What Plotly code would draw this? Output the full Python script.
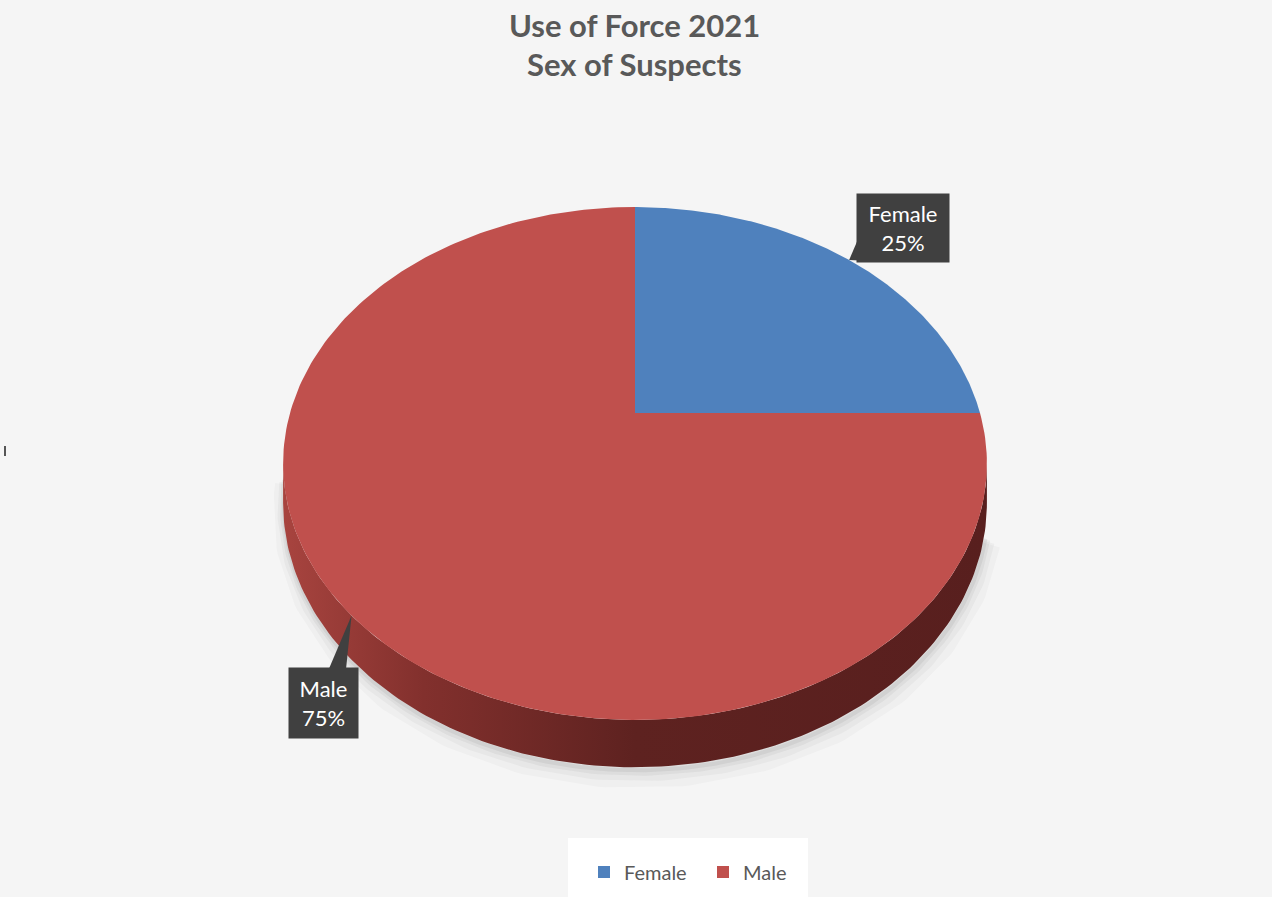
import numpy as np
import plotly.graph_objects as go

# ---- data -------------------------------------------------------------
categories = ["Female", "Male"]
shares = [25, 75]                      # percent of suspects
slice_colors = ["#4f81bd", "#c0504d"]
side_scales = [
    [[0, "#3a5f8c"], [0.5, "#2a4568"], [1, "#28405f"]],
    [[0, "#a8443f"], [0.2, "#82302d"], [0.5, "#5e2220"], [1, "#581f1e"]],
]
title_lines = ["Use of Force 2021", "Sex of Suspects"]

# ---- layout constants (pixels) -----------------------------------------
W, H = 1272, 897
CX, CY = 635, 413          # projected centre of the pie
A, B, P = 345, 246.5, 0.197  # perspective projection of the tilted disc
DEPTH = 38                 # thickness of the pie body
TEXT_GREY = "#595959"
BG = "#f5f5f5"


def project(phi, drop=0.0):
    """Clockwise angle from 12 o'clock on the disc -> screen coordinates."""
    u, v = np.sin(phi), np.cos(phi)
    d = 1 + P * v
    return CX + A * u / d, CY - B * v / d + drop / d


fig = go.Figure()

total = float(sum(shares))
bounds = np.concatenate([[0], np.cumsum(shares)]) / total * 2 * np.pi
front_lo = np.arccos(-P)
front_hi = 2 * np.pi - front_lo

# soft shadow under the body, strongest towards the lower right
phis = np.linspace(front_lo + 0.12, front_hi + 0.1, 200)
for w, op, off in [(26, 0.03, 8), (16, 0.045, 6), (9, 0.06, 4), (4, 0.07, 3)]:
    sx, sy = project(phis, DEPTH)
    fig.add_trace(go.Scatter(x=sx + off * 0.4, y=sy + off, mode="lines",
                             line=dict(color=f"rgba(60,60,60,{op})", width=w),
                             hoverinfo="skip", showlegend=False))

# visible side of each slice
for i, name in enumerate(categories):
    lo, hi = max(bounds[i], front_lo), min(bounds[i + 1], front_hi)
    if hi <= lo:
        continue
    ph = np.linspace(lo, hi, 160)
    tx, ty = project(ph)
    bx, by = project(ph[::-1], DEPTH)
    fig.add_trace(go.Scatter(
        x=np.concatenate([tx, bx, tx[:1]]), y=np.concatenate([ty, by, ty[:1]]),
        mode="lines", fill="toself", line=dict(width=0),
        fillgradient=dict(type="horizontal", colorscale=side_scales[i]),
        hoverinfo="skip", showlegend=False))

# top faces of the slices
for i, name in enumerate(categories):
    ph = np.linspace(bounds[i], bounds[i + 1], 240)
    ax, ay = project(ph)
    fig.add_trace(go.Scatter(
        x=np.concatenate([[CX], ax, [CX]]), y=np.concatenate([[CY], ay, [CY]]),
        mode="lines", fill="toself", fillcolor=slice_colors[i],
        line=dict(width=0), name=name, hoverinfo="name", showlegend=False))

# data-label callouts
label_specs = {
    "Female": dict(dx=54, dy=-32, w=90, h=66,
                   base=lambda l, t, r, b: [(l, b - 22), (l + 12, b)]),
    "Male": dict(dx=-28, dy=87, w=67, h=68,
                 base=lambda l, t, r, b: [(l + 39, t), (l + 56, t)]),
}
annotations = []
for i, name in enumerate(categories):
    mid = (bounds[i] + bounds[i + 1]) / 2
    tipx, tipy = project(mid)
    s = label_specs[name]
    bx_c, by_c = tipx + s["dx"], tipy + s["dy"]
    l, r = bx_c - s["w"] / 2, bx_c + s["w"] / 2
    t, b = by_c - s["h"] / 2, by_c + s["h"] / 2
    (p1x, p1y), (p2x, p2y) = s["base"](l, t, r, b)
    fig.add_trace(go.Scatter(x=[tipx, p1x, p2x, tipx], y=[tipy, p1y, p2y, tipy],
                             mode="lines", fill="toself", fillcolor="#404040",
                             line=dict(width=0), hoverinfo="skip", showlegend=False))
    annotations.append(dict(
        x=bx_c, y=by_c, xref="x", yref="y", showarrow=False,
        text=f"{name}<br>{shares[i]}%", width=s["w"], height=s["h"],
        bgcolor="#404040", font=dict(family="Lato", size=22, color="white"),
        align="center", valign="middle"))

# legend entries
for i, name in enumerate(categories):
    fig.add_trace(go.Scatter(x=[None], y=[None], mode="markers", name=name,
                             marker=dict(symbol="square", size=12, color=slice_colors[i])))

# title
for text, y in zip(title_lines, [25, 64]):
    annotations.append(dict(x=634, y=y, xref="x", yref="y", showarrow=False, text=text,
                            font=dict(family="Lato", size=31, color=TEXT_GREY, weight="bold")))

fig.update_layout(
    width=W, height=H, margin=dict(l=0, r=0, t=0, b=0),
    paper_bgcolor=BG, plot_bgcolor=BG,
    xaxis=dict(range=[0, W], visible=False, fixedrange=True),
    yaxis=dict(range=[H, 0], visible=False, fixedrange=True),
    annotations=annotations,
    shapes=[
        dict(type="rect", xref="x", yref="y", x0=568, x1=808, y0=838, y1=897,
             fillcolor="white", line=dict(width=0), layer="below"),
        dict(type="line", xref="x", yref="y", x0=5, x1=5, y0=446, y1=456,
             line=dict(color="#555555", width=2)),
    ],
    legend=dict(orientation="h", x=584 / W, xanchor="left", y=1 - 872 / H, yanchor="middle",
                bgcolor="rgba(0,0,0,0)", font=dict(family="Lato", size=20, color=TEXT_GREY),
                itemclick=False, itemdoubleclick=False, itemwidth=30, entrywidth=74),
    showlegend=True,
)

fig.write_html("out.html")
